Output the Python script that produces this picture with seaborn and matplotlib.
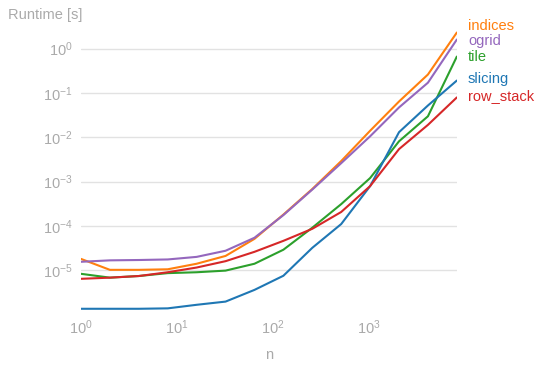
import matplotlib
matplotlib.use("Agg")
import matplotlib.pyplot as plt
import numpy as np
import pandas as pd
import seaborn as sns

sns.set_style("white")
plt.rcParams["font.family"] = ["Liberation Sans", "DejaVu Sans"]

# problem sizes and runtimes [s]
n = [1, 2, 4, 8, 16, 32, 64, 128, 256, 512, 1024, 2048, 4096, 8192]
indices = [1.8e-5, 1.02e-5, 1.02e-5, 1.05e-5, 1.4e-5, 2.1e-5, 5.1e-5, 1.8e-4,
           6.8e-4, 2.9e-3, 1.4e-2, 6.4e-2, 0.26, 2.3]
ogrid = [1.55e-5, 1.67e-5, 1.7e-5, 1.75e-5, 2.0e-5, 2.75e-5, 5.4e-5, 1.75e-4,
         6.6e-4, 2.6e-3, 1.05e-2, 4.7e-2, 0.17, 1.6]
tile = [8.3e-6, 6.8e-6, 7.4e-6, 8.6e-6, 9.0e-6, 9.8e-6, 1.4e-5, 2.9e-5,
        9.1e-5, 3.1e-4, 1.2e-3, 8.1e-3, 2.97e-2, 0.66]
slicing = [1.35e-6, 1.35e-6, 1.35e-6, 1.38e-6, 1.66e-6, 1.96e-6, 3.6e-6, 7.5e-6,
           3.2e-5, 1.1e-4, 7.9e-4, 1.3e-2, 5.2e-2, 0.19]
row_stack = [6.4e-6, 6.8e-6, 7.4e-6, 9.0e-6, 1.15e-5, 1.6e-5, 2.6e-5, 4.6e-5,
             8.6e-5, 2.06e-4, 7.9e-4, 5.4e-3, 1.9e-2, 7.9e-2]

labels = ["indices", "ogrid", "tile", "slicing", "row_stack"]
colors = ["#ff7f0e", "#9467bd", "#2ca02c", "#1f77b4", "#d62728"]
series = [indices, ogrid, tile, slicing, row_stack]

df = pd.concat(
    [pd.DataFrame({"n": n, "runtime": s, "method": lab}) for lab, s in zip(labels, series)]
)

fig = plt.figure(figsize=(5.4, 3.71), dpi=100)
ax = fig.add_axes([0.15, 0.164, 0.696, 0.752])

sns.lineplot(data=df, x="n", y="runtime", hue="method", hue_order=labels,
             palette=colors, linewidth=1.5, legend=False, ax=ax)
ax.set_xscale("log")
ax.set_yscale("log")
ax.set_xlim(min(n), max(n))
ax.margins(y=0.005)

grey = "#aaaaaa"
sns.despine(ax=ax, left=True, bottom=True)
ax.grid(axis="y", color="#e2e2e2", linewidth=1)
ax.grid(axis="x", visible=False)
ax.minorticks_off()
ax.tick_params(axis="y", length=0, labelcolor=grey, labelsize=10.5, pad=6)
ax.tick_params(axis="x", length=3, color="#d0d0d0", labelcolor=grey, labelsize=10.5, pad=3)
ax.set_xlabel("n", color=grey, fontsize=10.5, labelpad=8)
ax.set_ylabel("")
fig.text(8 / 540, 1 - 15 / 371, "Runtime [s]", color=grey, fontsize=10.5, va="center")

# line labels at the right end, pushed apart so they don't overlap
ends = np.log10([s[-1] for s in series])
min_gap = 0.34  # in decades
order = np.argsort(-ends)
pos = ends[order].copy()
for _ in range(100):
    moved = False
    for i in range(len(pos) - 1):
        gap = pos[i] - pos[i + 1]
        if gap < min_gap:
            d = (min_gap - gap) / 2
            pos[i] += d
            pos[i + 1] -= d
            moved = True
    if not moved:
        break
for k, idx in enumerate(order):
    ax.annotate(labels[idx], xy=(max(n), 10 ** pos[k]), xytext=(8, 1),
                textcoords="offset points", color=colors[idx], fontsize=10.5,
                va="center", ha="left", annotation_clip=False)

fig.savefig("out.png", dpi=100)
